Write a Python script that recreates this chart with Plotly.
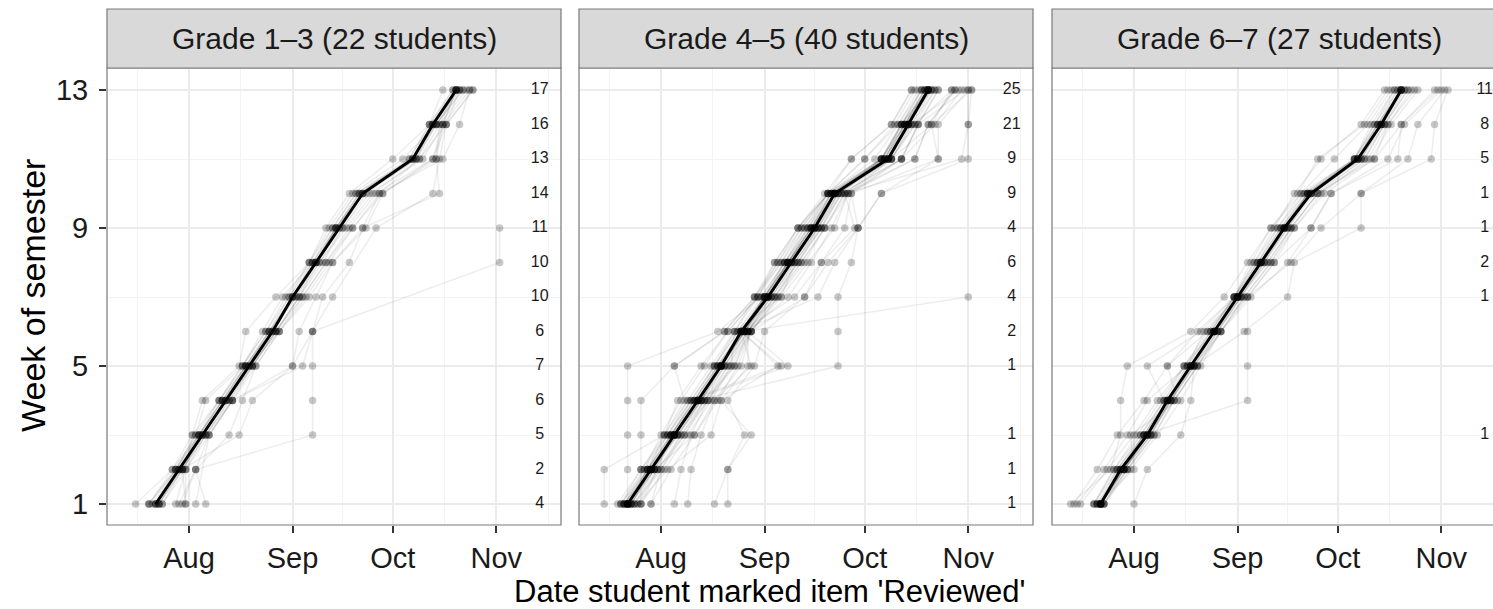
import plotly.graph_objects as go
from datetime import datetime, timedelta

# ---------------- data (day offsets relative to 1 August) ----------------
weeks = list(range(1, 14))
panel_titles = ["Grade 1\u20133 (22 students)", "Grade 4\u20135 (40 students)", "Grade 6\u20137 (27 students)"]
month_labels = ["Aug", "Sep", "Oct", "Nov"]
month_dates = ["2015-08-01", "2015-09-01", "2015-10-01", "2015-11-01"]

grade13_students = [
    [-10, -4, 2, 9, 17, 24, 30, 37, 43, 50, 67, 73, 80],
    [-11, -4, 3, 10, 17, 25, 31, 38, 44, 52, 67, 73, 80],
    [-9, -3, 3, 10, 18, 24, 32, 38, 45, 52, 68, 74, 81],
    [-12, -5, 1, 9, 16, 23, 30, 36, 43, 50, 66, 72, 79],
    [-10, -3, 4, 11, 19, 26, 33, 40, 46, 53, 68, 74, 82],
    [-8, -2, 5, 12, 19, 26, 33, 39, 47, 55, 69, 75, 83],
    [-16, -5, 3, 10, 17, 25, 32, 39, 46, 54, 70, 76, 84],
    [-9, -2, 4, 11, 18, 27, 34, 41, 48, 56, 73, 76, 80],
    [-4, -1, 6, 13, 20, 27, 35, 42, 49, 58, 73, 77, 85],
    [-3, 2, 12, 16, 20, 27, 36, 43, 52, 57, 76, 81, 84],
    [-1, -2, 15, 19, 31, 33, 38, 43, 53, 58, 74, 76, 80],
    [2, None, 6, 13, 34, 37, 43, None, 56, 73, 75, 77, 81],
    [5, 2, 37, 37, 37, 37, 40, 48, 52, 75, 74, 75, 80],
    [-1, -1, 1, 4, 15, 17, 26, 36, 41, 48, 61, 72, 76],
    [-12, -4, 2, 5, 16, 22, 28, 37, 44, 51, 67, 73, 81],
    [-10, -2, 5, 13, 31, 37, None, 93, 93, None, None, None, None],
    [-8, -1, 5, 12, 19, 26, 33, 38, 44, 51, 67, 74, 80],
    [-9, -3, 4, 11, 18, 25, 31, 38, 45, 52, 68, 73, 80],
    [-10, -3, 3, 10, 17, 24, 31, 37, 44, 51, 66, 72, 79],
    [-2, 2, 6, 13, 19, 26, 34, 41, 49, 57, 69, 77, 85],
    [-12, -4, 3, 9, 16, 23, 29, 36, 42, 49, 64, 74, 82],
    [-9, -2, 4, 11, 17, 24, 31, 38, 44, 52, None, None, None],
]

grade45_students = [
    [-10, -3, 4, 11, 18, 24, 32, 39, 46, 52, 68, 74, 80],
    [-11, -3, 4, 11, 18, 25, 32, 38, 45, 52, 68, 73, 80],
    [-10, -4, 3, 10, 17, 24, 31, 38, 45, 51, 67, 73, 79],
    [-9, -2, 5, 12, 19, 25, 33, 40, 47, 53, 69, 75, 81],
    [-10, -3, 4, 11, 18, 24, 31, 38, 46, 52, 68, 74, 80],
    [-12, -5, 2, 9, 16, 23, 30, 37, 44, 50, 66, 72, 78],
    [-8, -2, 4, 12, 19, 26, 32, 39, 46, 53, 68, 74, 81],
    [-10, -3, 3, 10, 17, 24, 31, 38, 44, 52, 67, 73, 80],
    [-11, -4, 4, 11, 18, 25, 32, 39, 46, 52, 69, 75, 82],
    [-9, -3, 5, 12, 18, 24, 31, 37, 45, 51, 67, 72, 79],
    [-10, -10, -10, -10, -10, 17, 30, 37, 43, 50, 66, 72, 78],
    [-6, -6, -6, -6, 4, 19, 28, 36, 42, 50, 61, 70, 76],
    [-17, -17, 1, 5, 12, 20, 29, 34, 41, 50, 57, 69, 75],
    [-3, 0, 6, 14, 20, 27, 34, 41, 48, 54, 72, 77, 83],
    [4, 6, 9, 14, 22, 27, 35, 42, 49, 55, 76, 80, 88],
    [8, 9, 12, 16, 24, 27, 36, 44, 52, 56, 72, 82, 90],
    [16, 20, 25, 20, 28, 31, 43, 48, 55, 57, 83, 83, 92],
    [20, 20, 27, 18, 35, 24, 40, 48, 58, 55, 90, 92, 93],
    [-7, -1, 7, 13, 22, 26, 34, 42, 49, 56, 69, 76, 87],
    [-6, 1, 8, 15, 21, 22, 36, 40, 47, 53, 66, 75, 89],
    [-12, -6, 2, 8, 36, 24, 32, 39, 47, 52, 68, 74, 80],
    [-8, -1, 3, 9, 38, 26, 33, 41, 48, 54, 66, 73, 79],
    [-10, -4, 1, 7, 4, 19, 28, 35, 41, 50, 61, 71, 77],
    [-11, -5, 0, 6, 13, 20, 29, 36, 43, 51, 66, 72, 80],
    [-9, -2, 10, 17, 23, 27, 43, 50, 59, 57, 72, 77, 91],
    [-7, 2, 15, 18, 26, 26, 38, 45, 51, 56, 76, 80, 88],
    [-10, -3, 4, 11, 53, 53, 53, 57, 59, 66, 92, 92, 92],
    [-11, -3, 5, 12, 18, 25, 92, None, None, None, None, None, None],
    [-10, -2, 3, 10, 17, 25, 32, 38, 45, 52, 66, 72, 80],
    [-12, -4, 3, 10, 16, 23, 31, 37, 44, 51, 67, 73, 81],
    [-9, -3, 5, 13, 19, 26, 33, 40, 48, 53, 69, 76, 82],
    [-10, -2, 4, 11, 18, 25, 31, 38, 46, 52, 68, 74, 80],
    [-6, -1, 6, 13, 20, 26, 34, 41, 47, 54, 72, 77, 83],
    [-11, -4, 2, 9, 16, 22, 29, 35, 42, 50, 64, 71, 78],
    [-13, -6, 1, 8, 15, 22, 28, 34, 41, 49, 57, 69, 75],
    [-8, 0, 7, 14, 21, 27, 35, 43, 49, 55, 69, 81, 87],
    [-10, -3, 4, 12, 18, 25, 32, 39, 46, 52, 68, 74, 80],
    [-9, -3, 4, 11, 18, 24, 32, 38, 45, 52, 67, 74, 80],
    [-10, -4, 3, 11, 17, 24, 31, 38, 45, 51, 66, 73, 79],
    [-3, 3, 10, 16, 27, 24, 47, 52, 59, 66, 83, 81, 93],
]

grade67_students = [
    [-10, -4, 4, 10, 17, 24, 31, 38, 45, 52, 67, 74, 80],
    [-11, -4, 3, 10, 17, 24, 31, 38, 45, 52, 67, 73, 80],
    [-10, -3, 4, 11, 18, 25, 32, 39, 46, 53, 68, 75, 81],
    [-9, -3, 5, 11, 17, 24, 31, 38, 44, 52, 66, 73, 79],
    [-10, -5, 3, 9, 16, 23, 30, 37, 44, 51, 66, 72, 79],
    [-12, -6, 1, 8, 15, 22, 30, 36, 43, 50, 60, 70, 77],
    [-18, -11, -5, 3, 10, 19, 30, 36, 42, 48, 56, 68, 75],
    [-17, -9, -2, 4, 16, 21, 31, 40, 47, 55, 69, 75, 82],
    [-19, -7, -4, -4, -2, 17, 27, 34, 41, 49, 55, 69, 76],
    [-10, -2, 6, 12, 19, 26, 33, 41, 48, 56, 70, 76, 83],
    [-9, -1, 7, 14, 20, 26, 34, 42, 48, 57, 72, 76, 84],
    [-11, -3, 5, 10, 18, 24, 31, 38, 45, 53, 67, 74, 80],
    [-10, -3, 4, 10, 17, 24, 31, 38, 46, 53, 68, 74, 80],
    [0, 4, 14, 17, 18, 26, 35, 46, 53, 59, 79, 80, 90],
    [-10, -4, 3, 34, 34, 34, 34, 47, 56, 68, 89, 90, 94],
    [-12, -5, 2, 9, 4, 20, 30, 35, 41, 50, 66, 71, 78],
    [-11, 0, -1, 13, 10, 22, 31, 39, 45, 53, 67, 73, 80],
    [-9, -2, 6, 12, 19, 25, 32, 40, 47, 55, 71, 77, 85],
    [-10, -3, 4, 11, 17, 24, 32, 38, 45, 52, 67, 74, 81],
    [-10, -4, 3, 10, 17, 24, 31, 37, 44, 52, 66, 73, 80],
    [-11, -5, 3, 10, 16, 23, 30, 38, 45, 52, 67, 74, 80],
    [-9, -2, 5, 11, 18, 25, 32, 39, 46, 54, 69, 75, 82],
    [-10, -3, 4, 12, 19, 26, 33, 41, 47, 55, 72, 80, 91],
    [-12, -6, 2, 9, 15, 23, 30, 37, 43, 51, 66, 72, 78],
    [-10, -4, 4, 10, 17, 24, 31, 38, 45, 53, 68, 74, 80],
    [-16, -8, 0, 7, 15, 24, 34, 42, 53, 59, 76, 81, 92],
    [-10, -3, 5, 11, 18, 33, 46, 48, 68, 68, 82, 85, 93],
]

grade13_median = [-10, -3, 4, 11, 18, 25, 31, 38, 45, 52, 67, 73, 80]
grade45_median = [-10, -3, 4, 11, 18, 24, 32, 39, 46, 52, 68, 74, 80]
grade67_median = [-10, -4, 4, 10, 17, 24, 31, 38, 45, 53, 67, 74, 80]

# labels printed at the right of each panel, week 1..13
grade13_counts = ["4", "2", "5", "6", "7", "6", "10", "10", "11", "14", "13", "16", "17"]
grade45_counts = ["1", "1", "1", "", "1", "2", "4", "6", "4", "9", "9", "21", "25"]
grade67_counts = ["", "", "1", "", "", "", "1", "2", "1", "1", "5", "8", "11"]

# ---------------- layout constants (pixels) ----------------
W, H = 1493, 609
BASE = datetime(2015, 8, 1)
PX_PER_DAY = 3.34
PANEL_LEFT = [107, 579, 1052]
PANEL_W = 454
AUG_OFFSET = 82          # pixels from panel left to 1 Aug
PLOT_TOP, PLOT_BOTTOM, STRIP_TOP = 68, 525, 9
LABEL_DAY = 105          # x position (days after 1 Aug) of the count labels
FONT = "Liberation Sans"


def d2date(d):
    return BASE + timedelta(days=d)


def px(x):
    return x / W


def py(y):
    return 1 - y / H


panels = [
    (grade13_students, grade13_median, grade13_counts),
    (grade45_students, grade45_median, grade45_counts),
    (grade67_students, grade67_median, grade67_counts),
]

fig = go.Figure()
range_start = BASE - timedelta(days=AUG_OFFSET / PX_PER_DAY)
y_range = [1 - (PLOT_BOTTOM - 504) / 34.5, 13 + (90 - PLOT_TOP) / 34.5]

shapes = []
annotations = []
layout_axes = {}
for i, (students, median, counts) in enumerate(panels):
    sfx = "" if i == 0 else str(i + 1)
    xa, ya = "x" + sfx, "y" + sfx
    for s in students:
        pts = [(w, d) for w, d in zip(weeks, s) if d is not None]
        fig.add_trace(go.Scatter(
            x=[d2date(d) for _, d in pts], y=[w for w, _ in pts],
            mode="lines+markers", xaxis=xa, yaxis=ya, showlegend=False,
            line=dict(color="rgba(0,0,0,0.07)", width=1.6),
            marker=dict(color="rgba(0,0,0,0.22)", size=7.5, line=dict(width=0)),
            hoverinfo="skip"))
    fig.add_trace(go.Scatter(
        x=[d2date(d) for d in median], y=weeks, mode="lines",
        xaxis=xa, yaxis=ya, showlegend=False,
        line=dict(color="black", width=3)))
    fig.add_trace(go.Scatter(
        x=[d2date(LABEL_DAY)] * 13, y=weeks, text=counts, mode="text",
        xaxis=xa, yaxis=ya, showlegend=False, cliponaxis=False,
        textfont=dict(family=FONT, size=16, color="#1a1a1a")))

    left = PANEL_LEFT[i]
    right = min(left + PANEL_W, W)
    vis_days = (right - left) / PX_PER_DAY
    layout_axes["xaxis" + sfx] = dict(
        domain=[px(left), px(right)], anchor=ya, type="date",
        range=[range_start, range_start + timedelta(days=vis_days)],
        tickvals=month_dates, ticktext=month_labels,
        ticks="outside", ticklen=7, tickwidth=1.5, tickcolor="#333333",
        tickfont=dict(family=FONT, size=29, color="#1a1a1a"),
        showgrid=True, gridcolor="#EBEBEB", gridwidth=1.6, zeroline=False,
        showline=False, automargin=False,
        minor=dict(tickvals=["2015-07-16 12:00", "2015-08-16 12:00", "2015-09-16",
                             "2015-10-16 12:00", "2015-11-16 12:00"],
                   showgrid=True, gridcolor="#F3F3F3", gridwidth=1, ticklen=0))
    layout_axes["yaxis" + sfx] = dict(
        domain=[py(PLOT_BOTTOM), py(PLOT_TOP)], anchor=xa, range=y_range,
        tickvals=[1, 5, 9, 13], showticklabels=(i == 0),
        ticks="outside" if i == 0 else "", ticklen=7, tickwidth=1.5, tickcolor="#333333",
        ticklabelstandoff=5,
        tickfont=dict(family=FONT, size=29, color="#1a1a1a"),
        showgrid=True, gridcolor="#EBEBEB", gridwidth=1.6, zeroline=False,
        showline=False, automargin=False,
        minor=dict(tickvals=[3, 7, 11], showgrid=True, gridcolor="#F3F3F3",
                   gridwidth=1, ticklen=0))

    x0, x1 = px(left), px(left + PANEL_W)
    # panel border
    shapes.append(dict(type="rect", xref="paper", yref="paper", x0=x0, x1=x1,
                       y0=py(PLOT_BOTTOM), y1=py(PLOT_TOP),
                       line=dict(color="#7a7a7a", width=1.2), fillcolor="rgba(0,0,0,0)",
                       layer="above"))
    # strip
    shapes.append(dict(type="rect", xref="paper", yref="paper", x0=x0, x1=x1,
                       y0=py(PLOT_TOP), y1=py(STRIP_TOP),
                       line=dict(color="#7a7a7a", width=1.2), fillcolor="#D9D9D9",
                       layer="above"))
    annotations.append(dict(xref="paper", yref="paper", x=px(left + PANEL_W / 2),
                            y=py((STRIP_TOP + PLOT_TOP) / 2), text=panel_titles[i],
                            showarrow=False, xanchor="center", yanchor="middle",
                            font=dict(family=FONT, size=30, color="#1a1a1a")))

annotations.append(dict(xref="paper", yref="paper", x=px(770), y=py(591),
                        text="Date student marked item 'Reviewed'", showarrow=False,
                        xanchor="center", yanchor="middle",
                        font=dict(family=FONT, size=31, color="black")))
annotations.append(dict(xref="paper", yref="paper", x=px(33), y=py(296),
                        text="Week of semester", showarrow=False, textangle=-90,
                        xanchor="center", yanchor="middle",
                        font=dict(family=FONT, size=34, color="black")))

fig.update_layout(
    width=W, height=H, autosize=False,
    margin=dict(l=0, r=0, t=0, b=0),
    paper_bgcolor="white", plot_bgcolor="white",
    showlegend=False, shapes=shapes, annotations=annotations,
    hovermode=False,
    **layout_axes)

fig.write_html("out.html", config={"displayModeBar": False},
               post_script="document.body.style.margin='0';document.body.style.overflow='hidden';")
